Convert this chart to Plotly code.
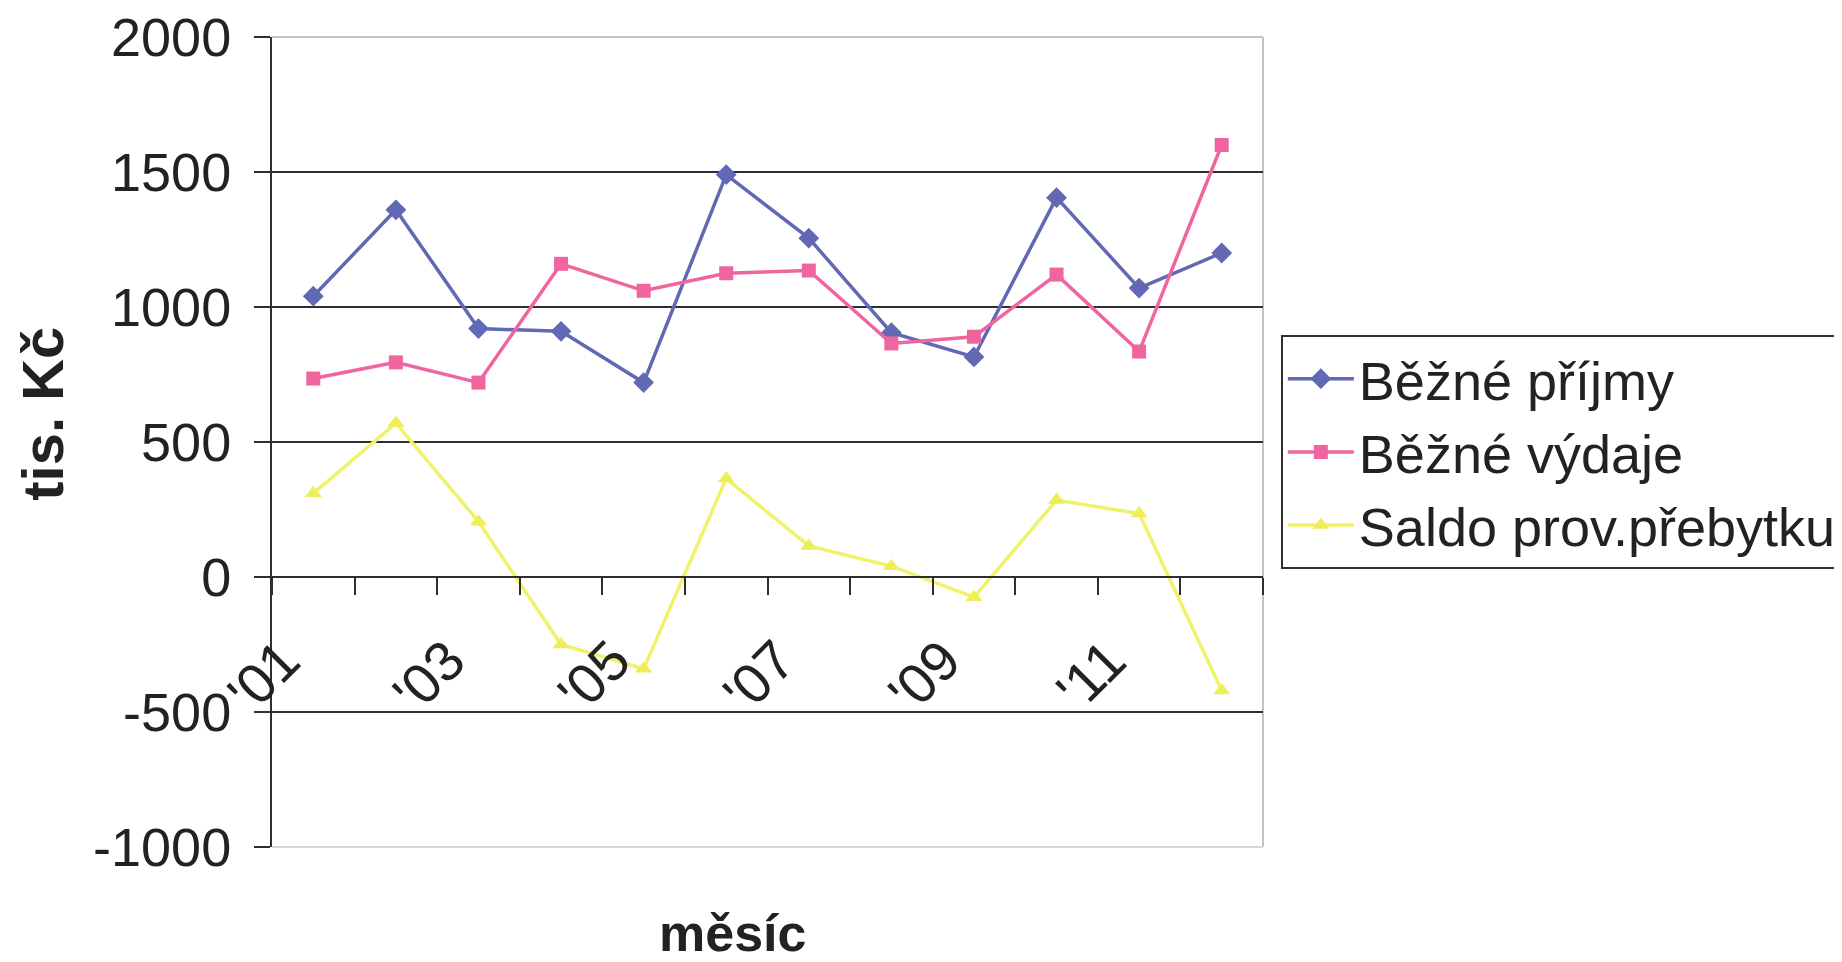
import plotly.graph_objects as go

months = ["'01", "'02", "'03", "'04", "'05", "'06", "'07", "'08", "'09", "'10", "'11", "'12"]
tick_text = ["'01", "", "'03", "", "'05", "", "'07", "", "'09", "", "'11", ""]

prijmy = [1040, 1360, 920, 910, 720, 1490, 1255, 905, 815, 1405, 1070, 1200]
vydaje = [735, 795, 720, 1160, 1060, 1125, 1135, 865, 890, 1120, 835, 1600]
saldo = [310, 570, 205, -250, -340, 365, 115, 40, -75, 285, 235, -420]

y_ticks = [-1000, -500, 0, 500, 1000, 1500, 2000]
y_tick_text = ["-1000", "-500", "0", "500", "1000", "1500", "2000"]

FONT = "Liberation Sans, Arial, sans-serif"
AX = "#2e2e2e"
TXT = "#222222"

fig = go.Figure()
fig.add_trace(go.Scatter(
    x=months, y=prijmy, name="Běžné příjmy", mode="lines+markers",
    line=dict(color="#6168b4", width=3.5),
    marker=dict(symbol="diamond", size=16, color="#6168b4"),
))
fig.add_trace(go.Scatter(
    x=months, y=vydaje, name="Běžné výdaje", mode="lines+markers",
    line=dict(color="#f0649f", width=3.5),
    marker=dict(symbol="square", size=14, color="#f0649f"),
))
fig.add_trace(go.Scatter(
    x=months, y=saldo, name="Saldo prov.přebytku", mode="lines+markers",
    line=dict(color="#f0f26a", width=3.5),
    marker=dict(symbol="triangle-up", size=15, color="#eeee58"),
))

fig.update_layout(
    width=1834, height=954,
    margin=dict(l=264, r=579, t=29, b=115, autoexpand=False),
    paper_bgcolor="#ffffff",
    plot_bgcolor="#ffffff",
    font=dict(family=FONT, size=52, color=TXT),
    showlegend=True,
    legend=dict(
        x=1.018, y=0.632, xanchor="left", yanchor="top",
        bordercolor=AX, borderwidth=2, bgcolor="rgba(0,0,0,0)",
        font=dict(family=FONT, size=54, color=TXT),
        itemwidth=66, tracegroupgap=0,
    ),
    xaxis=dict(
        type="category", categoryorder="array", categoryarray=months,
        range=[-0.5, 11.5],
        tickmode="array", tickvals=months, ticktext=tick_text,
        tickson="boundaries", ticks="outside", ticklen=17, tickwidth=2, tickcolor=AX,
        tickangle=-45,
        showline=True, linecolor=AX, linewidth=2,
        showgrid=False, zeroline=False,
        anchor="free", position=1/3,
        tickfont=dict(family=FONT, size=56, color=TXT),
        ticklabelshift=-30, ticklabelstandoff=27,
        ticklabeloverflow="allow",
    ),
    yaxis=dict(
        range=[-1000, 2000], tickmode="array", tickvals=y_ticks, ticktext=y_tick_text,
        ticks="outside", ticklen=16, tickwidth=2, tickcolor=AX,
        showline=True, linecolor=AX, linewidth=2,
        showgrid=True, gridcolor=AX, gridwidth=2,
        zeroline=True, zerolinecolor=AX, zerolinewidth=2,
        tickfont=dict(family=FONT, size=54, color=TXT),
        ticklabelstandoff=12,
        ticklabeloverflow="allow",
    ),
    annotations=[
        dict(text="<b>měsíc</b>", xref="paper", yref="paper", x=0.465, y=-0.106,
             xanchor="center", yanchor="middle", showarrow=False,
             font=dict(family=FONT, size=52, color=TXT)),
        dict(text="<b>tis. Kč</b>", xref="paper", yref="paper", x=-0.231, y=0.535,
             xanchor="center", yanchor="middle", showarrow=False, textangle=-90,
             font=dict(family=FONT, size=58, color=TXT)),
    ],
    shapes=[
        dict(type="line", xref="paper", yref="paper", x0=0, x1=1, y0=1, y1=1,
             line=dict(color="#c4c4c4", width=2), layer="below"),
        dict(type="line", xref="paper", yref="paper", x0=1, x1=1, y0=0, y1=1,
             line=dict(color="#c4c4c4", width=2), layer="below"),
        dict(type="line", xref="paper", yref="paper", x0=0, x1=1, y0=0, y1=0,
             line=dict(color="#d8d8d8", width=2), layer="below"),
    ],
)

fig.write_html("out.html")
